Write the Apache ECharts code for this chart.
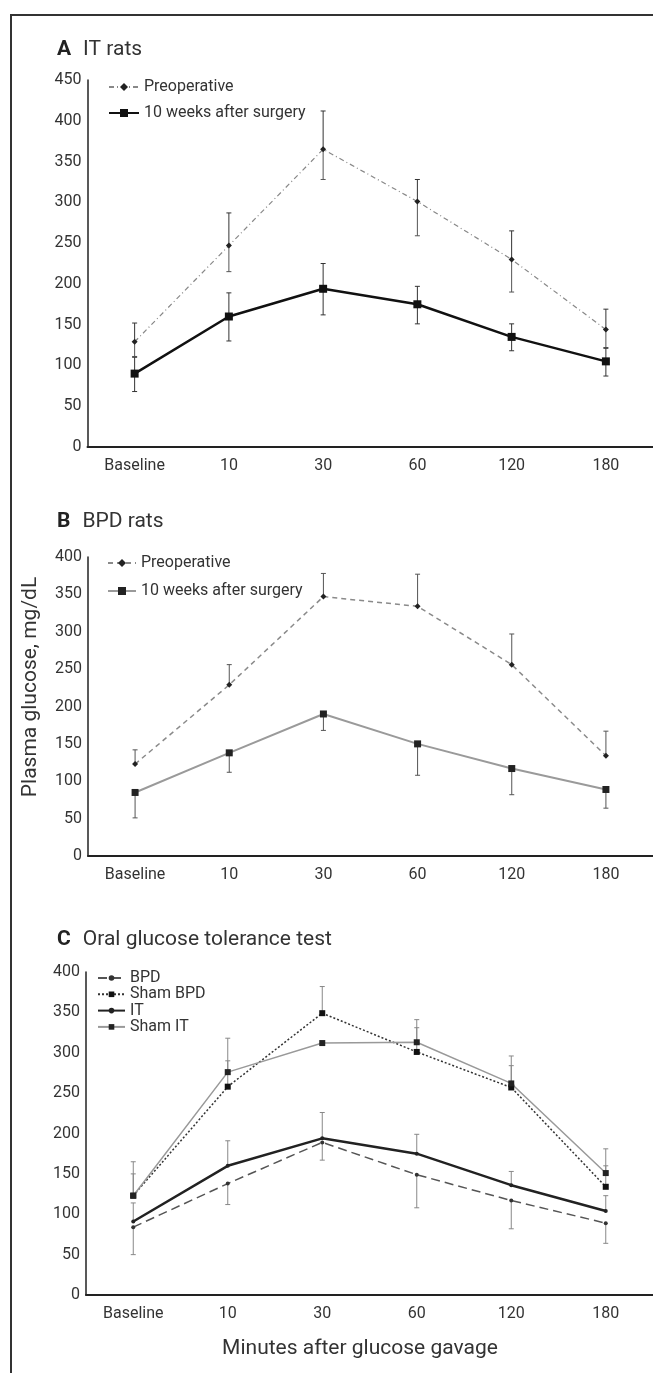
<!DOCTYPE html>
<html>
<head>
<meta charset="utf-8">
<script src="https://cdn.jsdelivr.net/npm/echarts@6/dist/echarts.min.js"></script>
<style>
  html, body { margin: 0; padding: 0; background: #fff; overflow: hidden; }
  #page { position: relative; width: 653px; height: 1373px; overflow: hidden; }
  #frame { position: absolute; left: 10px; top: 14px; width: 700px; height: 1400px; border: 2px solid #333; }
  .panel { position: absolute; left: 0; width: 653px; }
</style>
</head>
<body>
<div id="page">
  <div id="frame"></div>
  <div id="chartA" class="panel" style="top:0;height:490px"></div>
  <div id="chartB" class="panel" style="top:490px;height:410px"></div>
  <div id="chartC" class="panel" style="top:900px;height:473px"></div>
</div>
<script>
// time points (minutes after gavage)
const categories = ['Baseline', '10', '30', '60', '120', '180'];

// A - IT rats
const itPre = [129, 247, 365, 301, 230, 144];
const itPreLow = [111, 215, 328, 259, 190, 122];
const itPreHigh = [152, 287, 412, 328, 265, 169];
const itPost = [90, 160, 194, 175, 135, 105];
const itPostLow = [68, 130, 162, 151, 118, 87];
const itPostHigh = [110, 189, 225, 197, 151, 121];

// B - BPD rats
const bpdPre = [123, 229, 347, 334, 256, 134];
const bpdPreHigh = [142, 256, 378, 377, 297, 167];
const bpdPost = [85, 138, 190, 150, 117, 89];
const bpdPostLow = [51, 112, 168, 108, 82, 64];

// C - oral glucose tolerance test
const ogttBpd = [84, 138, 189, 149, 117, 89];
const ogttBpdLow = [50, 112, 167, 108, 82, 64];
const ogttShamBpd = [123, 258, 349, 301, 257, 134];
const ogttShamBpdHigh = [150, 290, 382, 331, 284, 160];
const ogttIt = [91, 160, 194, 175, 136, 104];
const ogttItHigh = [114, 191, 226, 199, 153, 123];
const ogttShamIt = [123, 276, 312, 313, 262, 151];
const ogttShamItHigh = [165, 318, 312, 341, 296, 181];

const FONT = 'Roboto';

// error bar: vertical line from mean to end, cap at the end
function errBar(means, ends, color) {
    return {
        type: 'custom',
        z: 1,
        silent: true,
        data: ends.map((e, i) => [i, means[i], e]),
        encode: { x: 0, y: [1, 2] },
        renderItem: function (params, api) {
            const s = api.coord([api.value(0), api.value(1)]);
            const e = api.coord([api.value(0), api.value(2)]);
            const w = 2.5;
            return {
                type: 'group',
                children: [
                    { type: 'line', shape: { x1: s[0], y1: s[1], x2: e[0], y2: e[1] }, style: { stroke: color, lineWidth: 1 } },
                    { type: 'line', shape: { x1: e[0] - w, y1: e[1], x2: e[0] + w, y2: e[1] }, style: { stroke: color, lineWidth: 1 } }
                ]
            };
        }
    };
}

function lineSeries(name, data, o) {
    return {
        name: name,
        type: 'line',
        data: data,
        z: 3,
        symbol: o.symbol,
        symbolSize: o.size,
        itemStyle: { color: o.mark },
        lineStyle: { color: o.color, width: o.width, type: o.type || 'solid' }
    };
}

function xAxisCfg() {
    return {
        type: 'category',
        data: categories,
        axisLine: { lineStyle: { color: '#222', width: 2 } },
        axisTick: { inside: true, length: 3, lineStyle: { color: '#777' } },
        axisLabel: { color: '#333', fontSize: 16, fontFamily: FONT, margin: 11 }
    };
}

function yAxisCfg(max) {
    return {
        type: 'value',
        min: 0,
        max: max,
        interval: 50,
        splitLine: { show: false },
        axisLine: { show: true, lineStyle: { color: '#222', width: 1.5 } },
        axisTick: { show: false },
        axisLabel: { color: '#333', fontSize: 16, fontFamily: FONT, margin: 6 }
    };
}

function titleCfg(letter, text, top) {
    return {
        text: '{b|' + letter + '}{n|' + text + '}',
        left: 57,
        top: top,
        padding: 0,
        textStyle: {
            fontWeight: 'normal',
            rich: {
                b: { fontFamily: FONT, fontSize: 21, fontWeight: 'bold', color: '#222', lineHeight: 26, padding: [0, 12, 0, 0] },
                n: { fontFamily: FONT, fontSize: 21, fontWeight: 'normal', color: '#333', lineHeight: 26 }
            }
        }
    };
}

function legendCfg(names, left, top, gap, width, height) {
    return {
        data: names,
        orient: 'vertical',
        left: left,
        top: top,
        padding: 0,
        itemGap: gap,
        itemWidth: width,
        itemHeight: height,
        textStyle: { color: '#333', fontSize: 16, fontFamily: FONT, lineHeight: 16 }
    };
}

// ---- A ----
const chartA = echarts.init(document.getElementById('chartA'));
chartA.setOption({
    animation: false,
    title: titleCfg('A', 'IT rats', 37),
    legend: legendCfg(['Preoperative', '10 weeks after surgery'], 108, 79, 10, 30, 10),
    grid: { left: 87.5, top: 80, width: 573, height: 367 },
    xAxis: xAxisCfg(),
    yAxis: yAxisCfg(450),
    series: [
        errBar(itPre, itPreLow, '#555'),
        errBar(itPre, itPreHigh, '#333'),
        errBar(itPost, itPostLow, '#333'),
        errBar(itPost, itPostHigh, '#333'),
        lineSeries('Preoperative', itPre, { symbol: 'diamond', size: 6, mark: '#222', color: '#888', width: 1.2, type: [5, 3, 1, 3] }),
        lineSeries('10 weeks after surgery', itPost, { symbol: 'rect', size: 8, mark: '#111', color: '#111', width: 2.5 })
    ]
});

// ---- B ----
const chartB = echarts.init(document.getElementById('chartB'));
chartB.setOption({
    animation: false,
    title: titleCfg('B', 'BPD rats', 19),
    legend: legendCfg(['Preoperative', '10 weeks after surgery'], 107, 65, 12, 28, 10),
    grid: { left: 88, top: 67, width: 573, height: 299 },
    xAxis: xAxisCfg(),
    yAxis: yAxisCfg(400),
    graphic: [{
        type: 'text',
        x: 31,
        y: 197,
        rotation: Math.PI / 2,
        style: { text: 'Plasma glucose, mg/dL', fill: '#333', font: '21px Roboto', align: 'center', verticalAlign: 'middle' }
    }],
    series: [
        errBar(bpdPre, bpdPreHigh, '#555'),
        errBar(bpdPost, bpdPostLow, '#555'),
        lineSeries('Preoperative', bpdPre, { symbol: 'diamond', size: 6, mark: '#222', color: '#8a8a8a', width: 1.5, type: [5, 4] }),
        lineSeries('10 weeks after surgery', bpdPost, { symbol: 'rect', size: 7, mark: '#222', color: '#9a9a9a', width: 2 })
    ]
});

// ---- C ----
const chartC = echarts.init(document.getElementById('chartC'));
chartC.setOption({
    animation: false,
    title: titleCfg('C', 'Oral glucose tolerance test', 27),
    legend: legendCfg(['BPD', 'Sham BPD', 'IT', 'Sham IT'], 97, 70, 0.3, 27, 7),
    grid: { left: 86, top: 72, width: 573, height: 323 },
    xAxis: xAxisCfg(),
    yAxis: yAxisCfg(400),
    graphic: [{
        type: 'text',
        x: 360,
        y: 449,
        style: { text: 'Minutes after glucose gavage', fill: '#333', font: '21px Roboto', align: 'center', verticalAlign: 'middle' }
    }],
    series: [
        errBar(ogttBpd, ogttBpdLow, '#888'),
        errBar(ogttShamBpd, ogttShamBpdHigh, '#888'),
        errBar(ogttIt, ogttItHigh, '#888'),
        errBar(ogttShamIt, ogttShamItHigh, '#888'),
        lineSeries('BPD', ogttBpd, { symbol: 'circle', size: 4, mark: '#333', color: '#555', width: 1.5, type: [9, 5] }),
        lineSeries('Sham BPD', ogttShamBpd, { symbol: 'rect', size: 6, mark: '#111', color: '#333', width: 1.5, type: [2, 2] }),
        lineSeries('IT', ogttIt, { symbol: 'circle', size: 4, mark: '#222', color: '#222', width: 2.5 }),
        lineSeries('Sham IT', ogttShamIt, { symbol: 'rect', size: 6, mark: '#222', color: '#999', width: 1.5 })
    ]
});
</script>
</body>
</html>
